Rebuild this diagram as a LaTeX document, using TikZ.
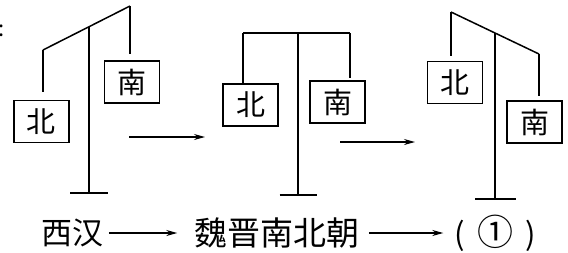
\documentclass[tikz,border=0pt]{standalone}
\usepackage{fontspec}
\setmainfont{Noto Sans CJK SC}
\usetikzlibrary{arrows.meta}

\begin{document}
\begin{tikzpicture}[x=1pt, y=-1pt, line width=1.5pt,
        every node/.style={inner sep=0pt, font=\fontsize{29}{32}\selectfont},
        signbox/.style={draw, minimum width=55pt, minimum height=42pt},
        flow/.style={-{Stealth[length=11pt, width=6pt]}, line width=1.3pt},
        label text/.style={font=\fontsize{31}{34}\selectfont}]
      \useasboundingbox (0,0) rectangle (568,252);
      \node[font=\fontsize{22}{24}\selectfont] (colon) at (2,31) {:};
      % Western Han: north low, south high
      \coordinate (L1) at (43,50);
      \coordinate (R1) at (130,6);
      \coordinate (P1) at (89,26.7);
      \coordinate (B1) at (89,193);
      \node[signbox] (N1) at (41.5,121.5) {北};
      \node[signbox] (S1) at (132,82) {南};
      \draw (L1) -- (R1);
      \draw (P1) -- (B1);
      \draw ([xshift=-19pt]B1) -- ([xshift=19pt]B1);
      \draw[shorten >=8pt] (L1) -- (L1 |- N1.north);
      \draw[shorten >=6pt] (R1) -- (R1 |- S1.north);
      % Wei-Jin, Northern and Southern dynasties: level
      \coordinate (L2) at (243,33);
      \coordinate (R2) at (350,33);
      \coordinate (P2) at (298,33);
      \coordinate (B2) at (298,195);
      \node[signbox] (N2) at (250.5,105) {北};
      \node[signbox] (S2) at (337.5,102) {南};
      \draw (L2) -- (R2);
      \draw (P2) -- (B2);
      \draw ([xshift=-18.5pt]B2) -- ([xshift=18.5pt]B2);
      \draw (L2) -- (L2 |- N2.north);
      \draw[shorten >=2pt] (R2) -- (R2 |- S2.north);
      % next stage: south low, north high
      \coordinate (L3) at (451,12);
      \coordinate (R3) at (539,54);
      \coordinate (P3) at (495,33);
      \coordinate (B3) at (495,199);
      \node[signbox] (N3) at (455,82.5) {北};
      \node[signbox] (S3) at (534.5,122) {南};
      \draw (L3) -- (R3);
      \draw (P3) -- (B3);
      \draw ([xshift=-20pt]B3) -- ([xshift=21pt]B3);
      \draw[shorten >=5pt] (L3) -- (L3 |- N3.north);
      \draw[shorten >=4pt] (R3) -- (R3 |- S3.north);
      % arrows between the scales
      \coordinate (a1s) at (129,137);
      \coordinate (a1e) at (205,137);
      \coordinate (a2s) at (340,142);
      \coordinate (a2e) at (415,142);
      \draw[flow] (a1s) -- (a1e);
      \draw[flow] (a2s) -- (a2e);
      % periods
      \node[label text] (xihan) at (72.5,233) {西汉};
      \node[label text, font=\fontsize{33}{36}\selectfont] (weijin) at (276.5,233) {魏晋南北朝};
      \node[label text] (blank) at (495,233) {(\hspace{12.5pt}{\fontsize{36}{36}\selectfont ①}\hspace{12.5pt})};
      \draw[flow, shorten <=4.5pt, shorten >=16pt] (xihan.east) -- (weijin.west);
      \draw[flow, shorten <=9pt, shorten >=10pt] (weijin.east) -- (blank.west);
    \end{tikzpicture}
\end{document}
